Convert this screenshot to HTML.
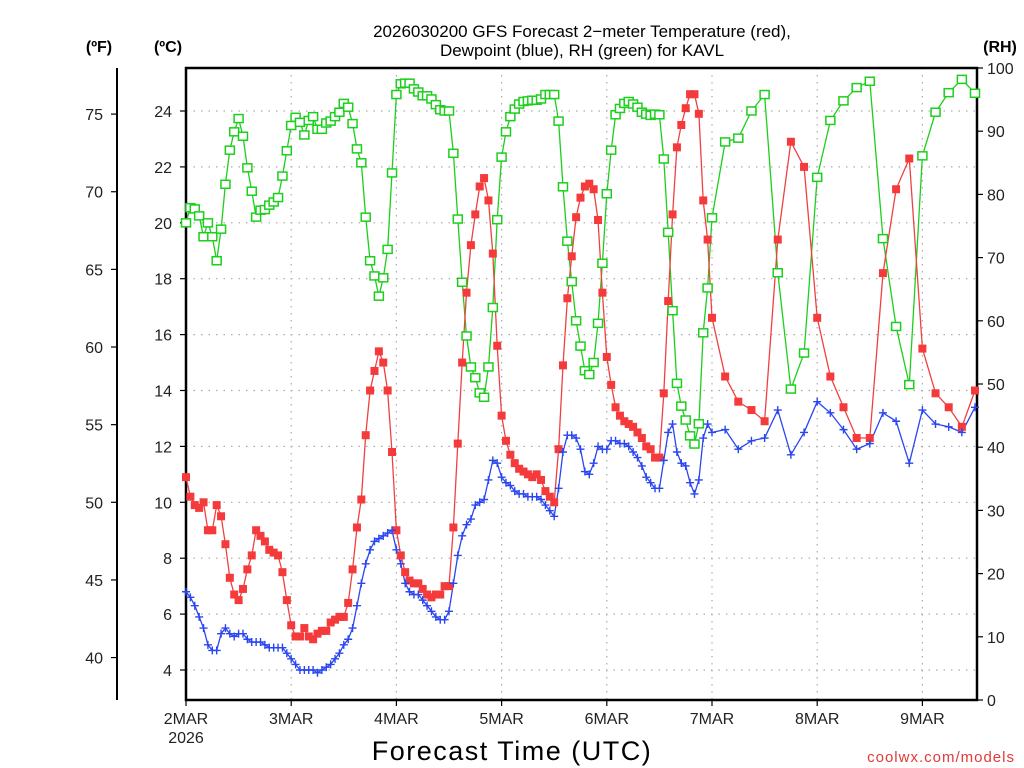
<!DOCTYPE html>
<html><head><meta charset="utf-8"><style>
html,body{margin:0;padding:0;background:#fff;}
svg{display:block;font-family:"Liberation Sans",sans-serif;}
</style></head><body>
<svg id="chart" width="1024" height="768" xmlns="http://www.w3.org/2000/svg">
<text x="582" y="37" text-anchor="middle" font-size="17">2026030200 GFS Forecast 2−meter Temperature (red),</text>
<text x="582" y="56" text-anchor="middle" font-size="17">Dewpoint (blue), RH (green) for KAVL</text>
<text x="99" y="52" text-anchor="middle" font-size="16" font-weight="bold">(ºF)</text>
<text x="168" y="52" text-anchor="middle" font-size="16" font-weight="bold">(ºC)</text>
<text x="1000" y="52" text-anchor="middle" font-size="16" font-weight="bold">(RH)</text>
<text x="512" y="760" text-anchor="middle" font-size="27" letter-spacing="1.5">Forecast Time (UTC)</text>
<text x="1015" y="762" text-anchor="end" font-size="15" fill="#e03a3a" letter-spacing="1">coolwx.com/models</text>
<g id="grid"></g><g id="axes"></g><g id="series"></g>
</svg>
<script>
const hours=[0,1,2,3,4,5,6,7,8,9,10,11,12,13,14,15,16,17,18,19,20,21,22,23,24,25,26,27,28,29,30,31,32,33,34,35,36,37,38,39,40,41,42,43,44,45,46,47,48,49,50,51,52,53,54,55,56,57,58,59,60,61,62,63,64,65,66,67,68,69,70,71,72,73,74,75,76,77,78,79,80,81,82,83,84,85,86,87,88,89,90,91,92,93,94,95,96,97,98,99,100,101,102,103,104,105,106,107,108,109,110,111,112,113,114,115,116,117,118,119,120,123,126,129,132,135,138,141,144,147,150,153,156,159,162,165,168,171,174,177,180];
const tempC=[10.9,10.2,9.9,9.8,10.0,9.0,9.0,9.9,9.5,8.5,7.3,6.7,6.5,6.9,7.6,8.1,9.0,8.8,8.6,8.3,8.2,8.1,7.5,6.5,5.6,5.2,5.2,5.5,5.2,5.1,5.3,5.4,5.4,5.7,5.8,5.9,5.9,6.4,7.6,9.1,10.1,12.4,14.0,14.7,15.4,15.0,14.0,11.8,9.0,
8.1,7.5,7.2,7.1,7.1,6.9,6.7,6.6,6.7,6.7,7.0,7.0,9.1,12.1,15.0,17.5,19.2,20.3,21.3,21.6,20.8,18.9,15.6,13.1,12.2,11.7,11.4,11.2,11.1,11.0,10.9,11.0,10.8,10.4,10.2,10.0,11.9,14.9,17.3,18.8,20.2,20.9,21.3,21.4,21.2,20.1,17.5,15.2,
14.2,13.4,13.1,12.9,12.8,12.7,12.5,12.3,12.0,11.9,11.6,11.6,13.9,17.2,20.3,22.7,23.5,24.1,24.6,24.6,23.9,20.8,19.4,16.6,
14.5,13.6,13.3,12.9,19.4,22.9,22.0,16.6,14.5,13.4,12.3,12.3,18.2,21.2,22.3,15.5,13.9,13.4,12.7,14.0];
const dewC=[6.8,6.6,6.3,5.9,5.5,4.9,4.7,4.7,5.3,5.5,5.3,5.2,5.3,5.3,5.1,5.0,5.0,5.0,4.9,4.8,4.8,4.8,4.8,4.6,4.4,4.2,4.0,4.0,4.0,4.0,3.9,4.0,4.1,4.2,4.4,4.6,4.9,5.1,5.5,6.3,7.1,7.8,8.3,8.6,8.7,8.8,8.9,9.0,
8.3,7.8,7.1,6.8,6.7,6.7,6.5,6.3,6.1,5.9,5.8,5.8,6.1,7.1,8.1,8.8,9.2,9.4,9.9,10.0,10.1,10.8,11.5,11.4,10.9,10.7,10.6,10.4,10.3,10.3,10.2,10.2,10.2,10.1,9.9,9.7,9.5,10.5,11.8,12.4,12.4,12.3,11.9,11.1,11.0,11.4,12.0,11.9,11.9,
12.2,12.2,12.1,12.1,12.0,11.8,11.6,11.3,10.9,10.7,10.5,10.5,11.5,12.5,12.8,11.8,11.4,11.3,10.7,10.3,10.8,12.3,12.8,12.5,
12.6,11.9,12.2,12.3,13.3,11.7,12.5,13.6,13.2,12.6,11.9,12.1,13.2,12.9,11.4,13.3,12.8,12.7,12.5,13.4];
const rhPct=[75.5,77.9,77.7,76.6,73.3,75.5,73.3,69.5,74.5,81.6,87.0,89.9,92.0,89.2,84.2,80.5,76.4,77.5,77.6,78.3,78.8,79.5,82.9,86.9,90.9,92.2,91.4,89.4,91.7,92.3,90.3,90.3,91.3,91.6,92.3,93.0,94.4,93.8,91.2,87.2,85.0,76.4,69.5,67.1,63.9,66.8,71.3,83.4,
95.8,97.5,97.6,97.6,96.7,96.2,95.6,95.6,95.1,94.2,93.4,93.2,93.2,86.5,76.1,66.1,57.6,52.7,51.0,48.6,47.9,52.7,62.1,76.0,85.9,89.9,92.3,93.5,94.3,94.7,94.8,94.9,94.9,95.1,95.8,95.8,95.8,91.6,81.2,72.6,66.2,60.0,56.0,52.1,51.5,53.4,59.6,69.1,80.1,
87.0,92.6,93.6,94.4,94.7,94.3,93.8,93.0,92.7,92.5,92.7,92.6,85.6,74.0,61.6,50.1,46.5,44.3,41.8,40.5,43.7,58.1,65.2,76.3,
88.3,88.9,93.2,95.8,67.6,49.2,54.9,82.7,91.7,94.8,96.9,97.9,73.0,59.1,49.9,86.1,93.0,96.1,98.2,96.0];
const dayLabels=["2MAR","3MAR","4MAR","5MAR","6MAR","7MAR","8MAR","9MAR"];
const cTicks=[4,6,8,10,12,14,16,18,20,22,24];
const fTicks=[40,45,50,55,60,65,70,75];
const rhTicks=[0,10,20,30,40,50,60,70,80,90,100];

const NS="http://www.w3.org/2000/svg";
const L=186,R=977,T=68,B=700;
const xOf=h=>L+h*(105.2/24);
const yC=c=>111+(24-c)*27.95;
const yF=f=>yC((f-32)/1.8);
const yRH=r=>B-r*(B-T)/100;
function mk(tag,attrs,parent){const e=document.createElementNS(NS,tag);for(const k in attrs)e.setAttribute(k,attrs[k]);parent.appendChild(e);return e;}
const grid=document.getElementById('grid'),axes=document.getElementById('axes'),ser=document.getElementById('series');

cTicks.forEach(c=>{
  const y=yC(c);
  const g=mk('line',{x1:L,x2:R,y1:y,y2:y,stroke:'#aaa','stroke-width':1.2,'stroke-dasharray':'1.5 6'},grid);
  
  
  const t=mk('line',{x1:L-6,x2:L,y1:y,y2:y,stroke:'#000','stroke-width':1.2},axes);
  
  
  const tx=mk('text',{x:172,y:y+6,'text-anchor':'end','font-size':16,fill:'#222'},axes);
  tx.textContent=c;
  
  
});
dayLabels.forEach((d,i)=>{
  const x=xOf(i*24);
  if(i>0){const g=mk('line',{x1:x,x2:x,y1:T,y2:B,stroke:'#aaa','stroke-width':1.2,'stroke-dasharray':'1.5 5.5'},grid);
  
  }
  const tk=mk('line',{x1:x,x2:x,y1:B,y2:B+6,stroke:'#000','stroke-width':1.2},axes);
  
  
  const t=mk('text',{x:x,y:724,'text-anchor':'middle','font-size':16,fill:'#222'},axes);
  t.textContent=d;
  
  
});
const yr=mk('text',{x:L,y:743,'text-anchor':'middle','font-size':16,fill:'#222'},axes);
yr.textContent='2026';



const fa=mk('line',{x1:117,x2:117,y1:T,y2:B,stroke:'#000','stroke-width':2},axes);


fTicks.forEach(f=>{
  const y=yF(f);
  const t=mk('line',{x1:111,x2:117,y1:y,y2:y,stroke:'#000','stroke-width':1.2},axes);
  
  
  const tx=mk('text',{x:103,y:y+6,'text-anchor':'end','font-size':16,fill:'#222'},axes);
  tx.textContent=f;
  
  
});
rhTicks.forEach(r=>{
  const y=yRH(r);
  const t=mk('line',{x1:R,x2:R+6,y1:y,y2:y,stroke:'#000','stroke-width':1.2},axes);
  
  
  const tx=mk('text',{x:987,y:y+6,'text-anchor':'start','font-size':16,fill:'#222'},axes);
  tx.textContent=r;
  
  
});
const frame=mk('rect',{x:L,y:T,width:R-L,height:B-T,fill:'none',stroke:'#000','stroke-width':2.5},axes);



function line(vals,yfn,color,name){
  const pts=hours.map((h,i)=>xOf(h).toFixed(1)+','+yfn(vals[i]).toFixed(1)).join(' ');
  const p=mk('polyline',{points:pts,fill:'none',stroke:color,'stroke-width':1.3},ser);
  
  
}
line(rhPct,yRH,'#1ccf1c','rh-line');
line(tempC,yC,'#f04040','temperature-line');
line(dewC,yC,'#2a46f0','dewpoint-line');
hours.forEach((h,i)=>{
  const x=xOf(h);
  const g=mk('rect',{x:x-4.5,y:yRH(rhPct[i])-4,width:9,height:8,fill:'#fff',stroke:'#1ccf1c','stroke-width':1.5},ser);
  
  
});
hours.forEach((h,i)=>{
  const x=xOf(h),y=yC(tempC[i]);
  const r=mk('rect',{x:x-4,y:y-4,width:8,height:8,fill:'#f43a3a'},ser);
  
  
});
hours.forEach((h,i)=>{
  const x=xOf(h),y=yC(dewC[i]);
  const p=mk('path',{d:`M${x-4},${y}H${x+4}M${x},${y-4}V${y+4}`,stroke:'#2a46f0','stroke-width':1.4,fill:'none'},ser);
  
  
});
</script>
</body></html>
